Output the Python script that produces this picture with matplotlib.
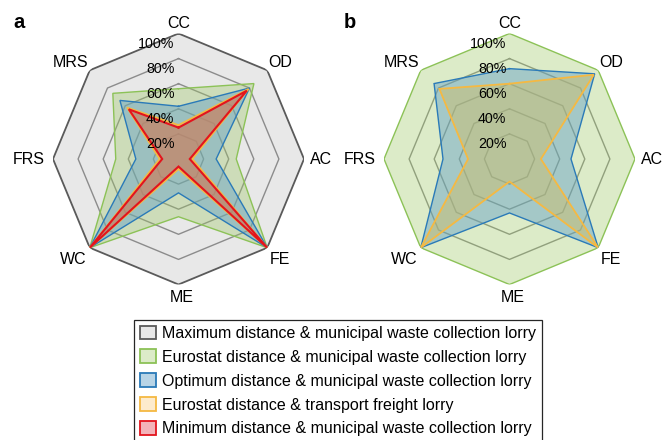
import numpy as np
import matplotlib
matplotlib.use("Agg")
import matplotlib.pyplot as plt
from matplotlib.colors import to_rgba
from matplotlib.patches import Patch

plt.rcParams['font.family'] = ['Liberation Sans', 'DejaVu Sans']

# Impact categories around the radar
categories = ['CC', 'OD', 'AC', 'FE', 'ME', 'WC', 'FRS', 'MRS']
levels = [20, 40, 60, 80, 100]
level_labels = ['20%', '40%', '60%', '80%', '100%']

# Panel a: relative impacts (%)
max_mwcl_a = [100, 100, 100, 100, 100, 100, 100, 100]
eurostat_mwcl_a = [56, 85, 46, 100, 46, 100, 50, 74]
optimum_mwcl_a = [42, 80, 30, 100, 27, 100, 34, 66]
eurostat_tfl_a = [27, 79, 11, 100, 8, 100, 15, 58]
minimum_mwcl_a = [25, 77, 9, 100, 6, 100, 13, 56]

# Panel b: relative impacts (%)
eurostat_mwcl_b = [100, 100, 100, 100, 100, 100, 100, 100]
optimum_mwcl_b = [72, 96, 49, 100, 43, 100, 53, 85]
eurostat_tfl_b = [60, 95, 25, 100, 18, 100, 33, 79]

legend_labels = [
    'Maximum distance & municipal waste collection lorry',
    'Eurostat distance & municipal waste collection lorry',
    'Optimum distance & municipal waste collection lorry',
    'Eurostat distance & transport freight lorry',
    'Minimum distance & municipal waste collection lorry',
]

# series styles: edge colour, fill colour, fill alpha, edge width, legend swatch
STYLE = {
    'max': ('#5a5a5a', '#e8e8e8', 1.0, 1.3, '#e8e8e8'),
    'eu': ('#8cc257', '#9bc662', 0.35, 1.0, '#dcebc8'),
    'opt': ('#2a7ab8', '#619fc7', 0.45, 1.0, '#b8d4e6'),
    'tfl': ('#f5b942', '#d1be64', 0.45, 1.3, '#fdebcd'),
    'min': ('#e3141d', '#c26864', 0.5, 1.5, '#f3b3b9'),
}
GRID_COLOR = '#8c8c8c'

theta = np.linspace(0, 2 * np.pi, len(categories), endpoint=False)
theta_c = np.append(theta, theta[0])


def closed(vals):
    return np.append(vals, vals[0])


def draw_series(ax, vals, key, z):
    edge, face, alpha, lw, _ = STYLE[key]
    ax.fill(theta_c, closed(vals), facecolor=to_rgba(face, alpha),
            edgecolor='none', zorder=z)
    ax.plot(theta_c, closed(vals), color=edge, lw=lw, zorder=z + 0.5,
            solid_joinstyle='miter')


def setup(ax, tick_dx):
    ax.set_theta_offset(np.pi / 2)
    ax.set_theta_direction(-1)
    ax.set_ylim(0, 100)
    ax.axis('off')
    for lv, lab in zip(levels, level_labels):
        ax.annotate(lab, xy=(0, lv), xytext=(tick_dx, -10),
                    textcoords='offset pixels', ha='right', va='center',
                    fontsize=10.3, color='#000000', zorder=20)
    for t, lab in zip(theta, categories):
        s, c = np.sin(t), np.cos(t)
        if abs(s) < 0.1:
            ha = 'center'
        else:
            ha = 'left' if s > 0 else 'right'
        if abs(c) < 0.1:
            va = 'center'
            off = (6 if s > 0 else -8, 0)
        elif c > 0:
            va = 'baseline'
            off = (1 * np.sign(s), 5 if abs(s) < 0.1 else 3)
        else:
            va = 'top'
            off = (3 * np.sign(s), -5 if abs(s) < 0.1 else -4)
        ax.annotate(lab, xy=(t, 100), xytext=off, textcoords='offset pixels',
                    ha=ha, va=va, fontsize=11.5, color='#000000', zorder=20)


def rings(ax, z, upto=80):
    for lv in levels:
        if lv > upto:
            continue
        ax.plot(theta_c, np.full(len(theta_c), lv), color=GRID_COLOR,
                lw=1.0, zorder=z)


fig = plt.figure(figsize=(6.66, 4.40), dpi=100)
W, H = 666, 440
R = 125.5

# panel a
cxa, cya = 178.5, 159.0
ax_a = fig.add_axes([(cxa - R) / W, (H - cya - R) / H, 2 * R / W, 2 * R / H],
                    projection='polar')
setup(ax_a, -4)
draw_series(ax_a, max_mwcl_a, 'max', 1)
rings(ax_a, 2)
draw_series(ax_a, eurostat_mwcl_a, 'eu', 3)
draw_series(ax_a, optimum_mwcl_a, 'opt', 4)
draw_series(ax_a, eurostat_tfl_a, 'tfl', 5)
draw_series(ax_a, minimum_mwcl_a, 'min', 6)

# panel b
cxb, cyb = 509.5, 159.0
ax_b = fig.add_axes([(cxb - R) / W, (H - cyb - R) / H, 2 * R / W, 2 * R / H],
                    projection='polar')
setup(ax_b, -3)
rings(ax_b, 1)
draw_series(ax_b, eurostat_mwcl_b, 'eu', 3)
draw_series(ax_b, optimum_mwcl_b, 'opt', 4)
draw_series(ax_b, eurostat_tfl_b, 'tfl', 5)

fig.text(13 / W, 1 - 28 / H, 'a', fontsize=14.5, fontweight='bold',
         ha='left', va='baseline')
fig.text(344 / W, 1 - 28 / H, 'b', fontsize=14.5, fontweight='bold',
         ha='left', va='baseline')

# legend
handles = []
for key in ['max', 'eu', 'opt', 'tfl', 'min']:
    edge, face, alpha, lw, swatch = STYLE[key]
    handles.append(Patch(facecolor=swatch, edgecolor=edge, linewidth=1.3))
leg = fig.legend(handles, legend_labels, loc='upper left',
                 bbox_to_anchor=(134 / W, 1 - 320 / H), frameon=True,
                 fancybox=False, framealpha=1, edgecolor='#262626',
                 fontsize=11.5, handlelength=1.0, handleheight=0.95,
                 handletextpad=0.4, labelspacing=0.53, borderpad=0.35,
                 borderaxespad=0)
leg.get_frame().set_linewidth(0.9)

fig.savefig('out.png', dpi=100)
